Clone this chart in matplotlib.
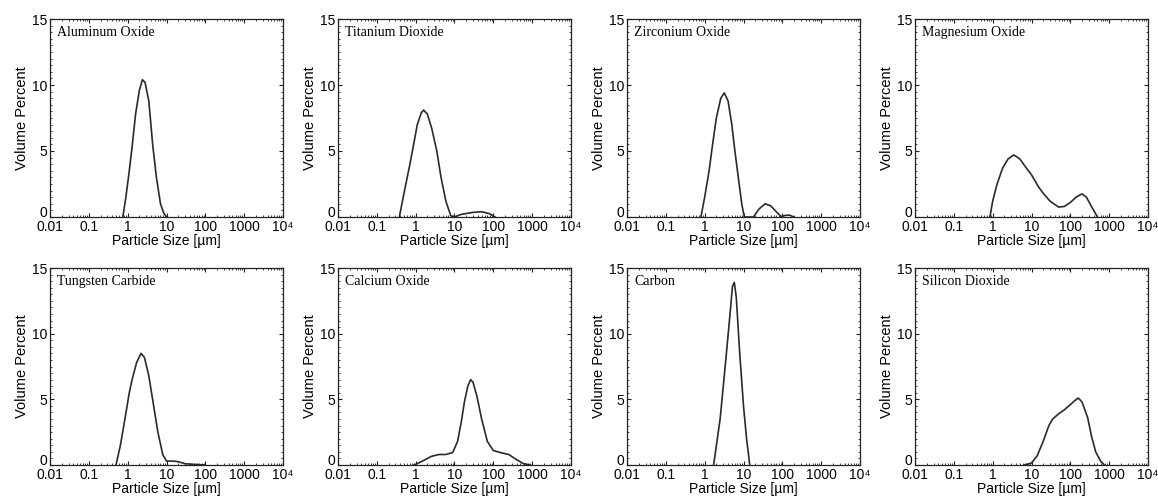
import matplotlib
matplotlib.use("Agg")
import matplotlib.pyplot as plt
import matplotlib.transforms as mtransforms
from matplotlib.ticker import FixedLocator, LogLocator, MultipleLocator, NullFormatter

plt.rcParams["font.family"] = ["Liberation Sans", "DejaVu Sans"]

# particle size distributions (size in um, volume percent)
names = ["Aluminum Oxide", "Titanium Dioxide", "Zirconium Oxide", "Magnesium Oxide",
         "Tungsten Carbide", "Calcium Oxide", "Carbon", "Silicon Dioxide"]

al_size = [0.75, 0.9, 1.1, 1.3, 1.6, 2.0, 2.4, 2.8, 3.5, 4.4, 5.5, 7.0, 8.5, 10]
al_pct = [0, 1.5, 3.5, 5.3, 7.8, 9.6, 10.4, 10.2, 8.8, 5.5, 3.0, 1.0, 0.3, 0]

ti_size = [0.38, 0.5, 0.7, 0.9, 1.1, 1.4, 1.6, 2.0, 2.6, 3.5, 4.5, 6.0, 8.0, 10,
           15, 30, 50, 80, 110]
ti_pct = [0, 1.8, 3.9, 5.6, 7.0, 7.9, 8.1, 7.8, 6.7, 5.0, 3.0, 1.2, 0.1, 0,
          0.2, 0.35, 0.4, 0.25, 0]

zr_size = [0.8, 1.0, 1.3, 1.6, 2.0, 2.6, 3.2, 4.0, 5.0, 6.0, 7.5, 9.0, 10.5,
           18, 25, 36, 50, 70, 95, 110, 150, 200]
zr_pct = [0, 1.5, 3.5, 5.5, 7.5, 9.0, 9.4, 8.8, 7.0, 5.0, 2.8, 1.0, 0,
          0, 0.6, 1.0, 0.85, 0.4, 0, 0.1, 0.15, 0]

mg_size = [0.85, 1.0, 1.3, 1.8, 2.5, 3.5, 5, 7, 10, 15, 20, 30, 50, 70, 100,
           140, 200, 260, 350, 500]
mg_pct = [0, 1.2, 2.5, 3.7, 4.4, 4.7, 4.4, 3.8, 3.2, 2.3, 1.8, 1.2, 0.75, 0.8,
          1.1, 1.5, 1.75, 1.5, 0.8, 0]

wc_size = [0.5, 0.65, 0.85, 1.1, 1.3, 1.7, 2.2, 2.7, 3.5, 4.5, 6.0, 8.0, 10,
           15, 20, 30, 50, 100]
wc_pct = [0, 1.5, 3.5, 5.5, 6.5, 7.8, 8.5, 8.2, 6.8, 4.8, 2.5, 0.8, 0.3,
          0.3, 0.25, 0.1, 0.05, 0]

ca_size = [0.9, 1.0, 1.5, 2.5, 4, 6, 9, 12, 15, 18, 22, 26, 30, 38, 50, 70,
           100, 150, 250, 400, 600, 900]
ca_pct = [0, 0.05, 0.3, 0.65, 0.8, 0.8, 0.95, 1.8, 3.3, 4.8, 6.0, 6.5, 6.3,
          5.2, 3.5, 1.8, 1.1, 0.95, 0.8, 0.4, 0.1, 0]

c_size = [1.7, 2.5, 3.5, 4.5, 5.2, 5.8, 6.5, 8.0, 10, 12, 14.5]
c_pct = [0, 3.5, 8.0, 11.5, 13.6, 13.9, 12.8, 8.5, 4.5, 2.0, 0]

si_size = [6.5, 10, 14, 20, 28, 35, 50, 70, 100, 130, 160, 200, 280, 350,
           450, 600, 750]
si_pct = [0, 0.15, 0.7, 1.8, 3.0, 3.5, 3.9, 4.2, 4.6, 4.9, 5.1, 4.8, 3.6,
          2.2, 1.0, 0.3, 0]

sizes = [al_size, ti_size, zr_size, mg_size, wc_size, ca_size, c_size, si_size]
pcts = [al_pct, ti_pct, zr_pct, mg_pct, wc_pct, ca_pct, c_pct, si_pct]

xticks = [0.01, 0.1, 1, 10, 100, 1000, 10000]
xticklabels = ["0.01", "0.1", "1", "10", "100", "1000", "10\u2074"]

fig = plt.figure(figsize=(11.58, 5.04), dpi=100)
lefts = [50, 338, 627, 915]
rows = [(19, 217), (268, 465)]
W, H = 1158, 504

for i, name in enumerate(names):
    r, c = divmod(i, 4)
    top, bot = rows[r]
    ax = fig.add_axes([lefts[c] / W, (H - bot) / H, 233 / W, (bot - top) / H])
    ax.plot(sizes[i], pcts[i], color="#2a2a2a", lw=1.2)
    ax.set_xscale("log")
    ax.set_xlim(0.01, 10000)
    ax.set_ylim(0, 15)
    ax.xaxis.set_major_locator(FixedLocator(xticks))
    ax.set_xticklabels(xticklabels)
    ax.xaxis.set_minor_locator(LogLocator(base=10, subs=range(2, 10), numticks=20))
    ax.xaxis.set_minor_formatter(NullFormatter())
    ax.set_yticks([0, 5, 10, 15])
    ax.yaxis.set_minor_locator(MultipleLocator(0.5))
    ax.tick_params(which="both", direction="in", top=True, right=True,
                   labelsize=10, color="#222222")
    ax.tick_params(axis="x", pad=2.5)
    ax.tick_params(axis="y", pad=2)
    ax.tick_params(which="major", length=3, width=0.8)
    ax.tick_params(which="minor", length=1.5, width=0.6)
    # keep the zero of the y axis just clear of the 0.01 label below it
    zero = ax.get_yticklabels()[0]
    zero.set_verticalalignment("bottom")
    zero.set_transform(zero.get_transform() +
                       mtransforms.ScaledTranslation(0, -3 / 100, fig.dpi_scale_trans))
    for s in ax.spines.values():
        s.set_linewidth(0.9)
        s.set_color("#222222")
    ax.set_xlabel("Particle Size [\u00b5m]", fontsize=10, labelpad=0)
    ax.set_ylabel("Volume Percent", fontsize=10.5, labelpad=2)
    ax.text(0.03, 0.965, name, transform=ax.transAxes, va="top", ha="left",
            fontsize=10, family=["Liberation Serif", "DejaVu Serif"])

fig.savefig("out.png", dpi=100)
